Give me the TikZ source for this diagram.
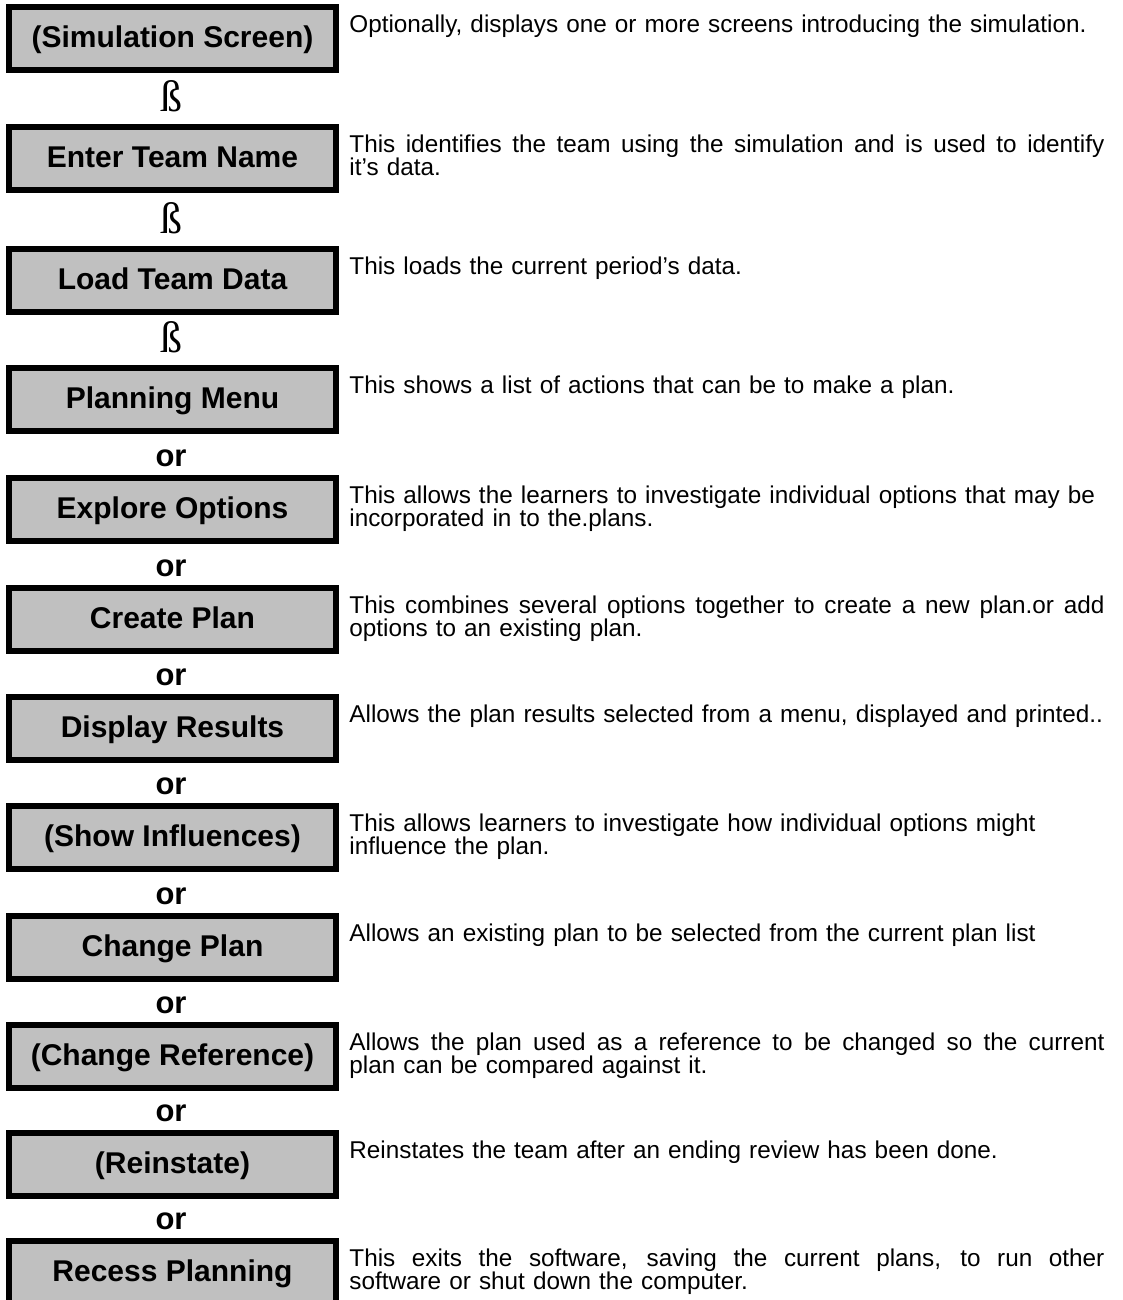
\documentclass[tikz,border=0pt]{standalone}
\usepackage{fontspec}
\setmainfont{Liberation Sans}
\newfontfamily\descfont{Liberation Sans}
\newfontfamily\boxfont{Liberation Sans}
\newfontfamily\symfont{Liberation Serif}
\definecolor{boxgray}{HTML}{C0C0C0}
\newcommand\jline[1]{{\spaceskip=0pt\xspaceskip=0pt\makebox[377.5pt][s]{#1}}}
\newcommand\fstrut{\lineskiplimit=-20pt\relax\rule{0pt}{14pt}}
\begin{document}
\begin{tikzpicture}[x=0.5pt,y=-0.5pt,
  stepbox/.style={draw=black, line width=3pt, fill=boxgray,
    minimum width=163.5pt, minimum height=31.5pt, inner sep=0pt,
    text height=10pt, text depth=1pt,
    font=\boxfont\bfseries\fontsize{15pt}{18pt}\selectfont},
  desc/.style={anchor=north west, inner sep=0pt, text width=377.5pt, align=left,
    font=\descfont\fontsize{12.15pt}{11.6pt}\selectfont},
  ortext/.style={anchor=base, inner sep=0pt,
    font=\boxfont\bfseries\fontsize{15.5pt}{18pt}\selectfont},
  betasym/.style={anchor=base, inner sep=0pt,
    font=\symfont\fontsize{22pt}{24pt}\selectfont}
]
\useasboundingbox (0,0) rectangle (1123,1300);

% boxes (top + 34.5)
\node[stepbox] (b1)  at (172.5,38.5)   {(Simulation Screen)};
\node[stepbox] (b2)  at (172.5,158.5)  {Enter Team Name};
\node[stepbox] (b3)  at (172.5,280.5)  {Load Team Data};
\node[stepbox] (b4)  at (172.5,399.5)  {Planning Menu};
\node[stepbox] (b5)  at (172.5,509.5)  {Explore Options};
\node[stepbox] (b6)  at (172.5,619.5)  {Create Plan};
\node[stepbox] (b7)  at (172.5,728.5)  {Display Results};
\node[stepbox] (b8)  at (172.5,837.5)  {(Show Influences)};
\node[stepbox] (b9)  at (172.5,947.5)  {Change Plan};
\node[stepbox] (b10) at (172.5,1056.5) {(Change Reference)};
\node[stepbox] (b11) at (172.5,1164.5) {(Reinstate)};
\node[stepbox] (b12) at (172.5,1272.5) {Recess Planning};

% connectors between boxes
\node[betasym] (s1) at (171.5,111.5) {ß};
\node[betasym] (s2) at (171.5,233.5) {ß};
\node[betasym] (s3) at (171.5,352.5) {ß};
\node[ortext] (o1)  at (171,466.5)  {or};
\node[ortext] (o2)  at (171,576.5)  {or};
\node[ortext] (o3)  at (171,685.5)  {or};
\node[ortext] (o4)  at (171,794.5)  {or};
\node[ortext] (o5)  at (171,904.5)  {or};
\node[ortext] (o6)  at (171,1013.5) {or};
\node[ortext] (o7)  at (171,1121.5) {or};
\node[ortext] (o8)  at (171,1229.5) {or};

% descriptions
\node[desc] (d1) at (349,4) {\fstrut Optionally, displays one or more screens introducing the simulation.};
\node[desc] (d2) at (349,124) {\fstrut\jline{This identifies the team using the simulation and is used to identify}\\ it’s data.};
\node[desc] (d3) at (349,246) {\fstrut This loads the current period’s data.};
\node[desc] (d4) at (349,365) {\fstrut This shows a list of actions that can be to make a plan.};
\node[desc] (d5) at (349,475) {\fstrut This allows the learners to investigate individual options that may be\\ incorporated in to the.plans.};
\node[desc] (d6) at (349,585) {\fstrut\jline{This combines several options together to create a new plan.or add}\\ options to an existing plan.};
\node[desc] (d7) at (349,694) {\fstrut Allows the plan results selected from a menu, displayed and printed..};
\node[desc] (d8) at (349,803) {\fstrut This allows learners to investigate how individual options might\\ influence the plan.};
\node[desc] (d9) at (349,913) {\fstrut Allows an existing plan to be selected from the current plan list};
\node[desc] (d10) at (349,1022) {\fstrut\jline{Allows the plan used as a reference to be changed so the current}\\ plan can be compared against it.};
\node[desc] (d11) at (349,1130) {\fstrut Reinstates the team after an ending review has been done.};
\node[desc] (d12) at (349,1238) {\fstrut\jline{This exits the software, saving the current plans, to run other}\\ software or shut down the computer.};
\end{tikzpicture}
\end{document}
